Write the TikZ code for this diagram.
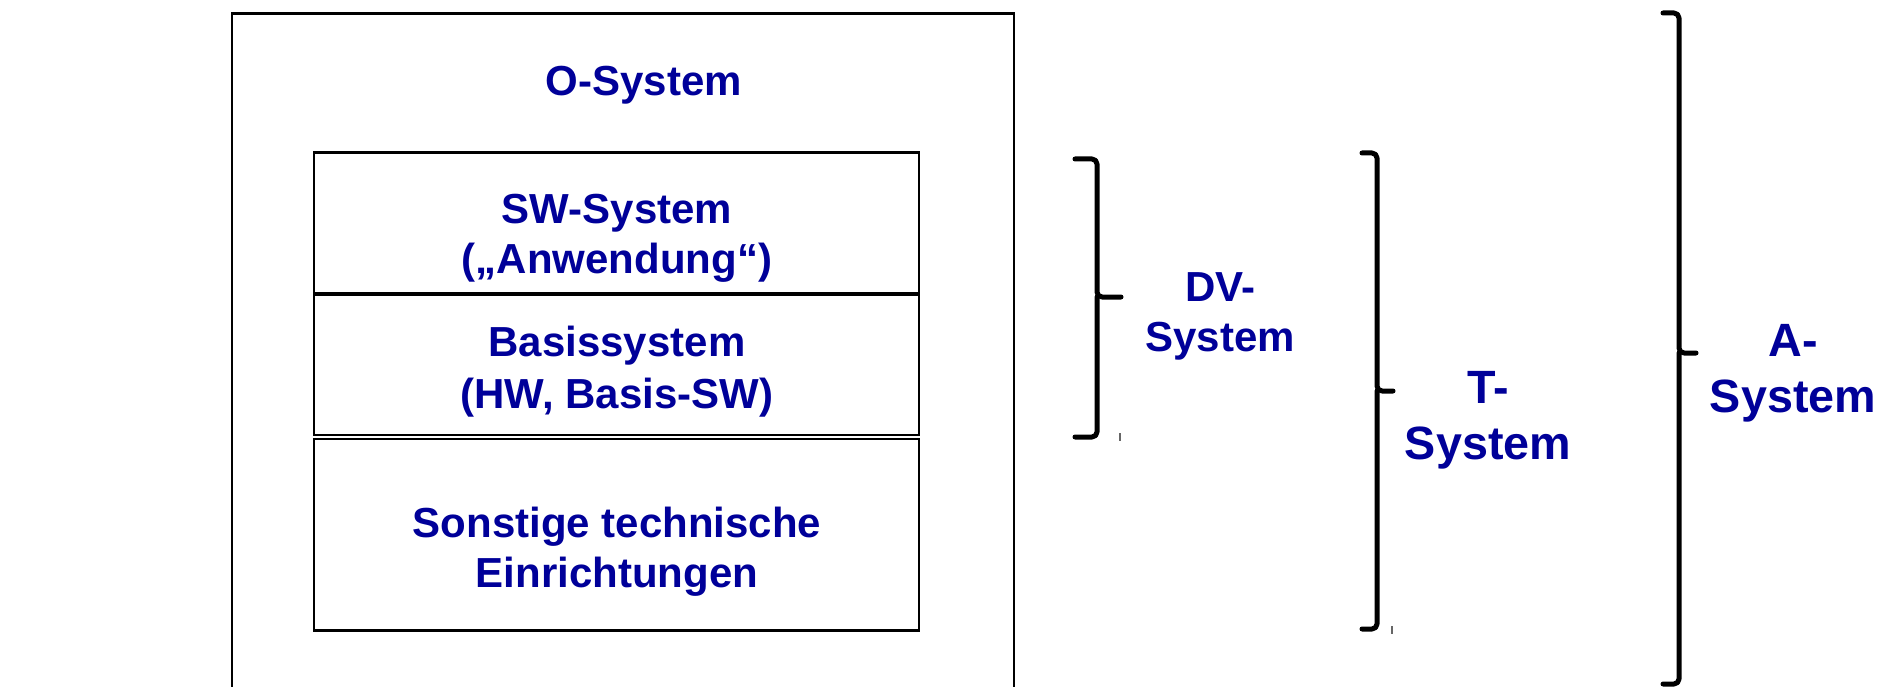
\documentclass[tikz,border=0pt]{standalone}
\usepackage{fontspec}
\setmainfont{Liberation Sans}
\definecolor{labelblue}{RGB}{0,0,153}
\begin{document}
\begin{tikzpicture}[x=1pt,y=-1pt,
  frame/.style={draw=black,line width=2.5pt},
  layer/.style={draw=black,line width=2.6pt},
  lbl/.style={text=labelblue,font=\bfseries\fontsize{42}{50}\selectfont,align=center,inner sep=0pt},
  biglbl/.style={lbl,font=\bfseries\fontsize{46.7}{56}\selectfont},
  brace/.style={draw=black,line width=5pt,line cap=round,line join=round,rounded corners=5pt},
  tick/.style={draw=black!60,line width=1.2pt}]
\useasboundingbox (0,0) rectangle (1881,687);

% outer frame (runs off the bottom edge)
\draw[frame] (232,13.5) rectangle (1014,720);
\node[lbl] (osys) at (644,85) {O-System};

% stacked layers
\draw[layer] (314,152.5) rectangle (919,293.5);
\draw[layer] (314,295) rectangle (919,435);
\draw[layer] (314,439) rectangle (919,630.5);

\node[lbl] (sw)   at (617,238) {SW-System\\(„Anwendung“)};
\node[lbl,font=\bfseries\fontsize{42}{52}\selectfont] (bas) at (617,372) {Basissystem\\(HW, Basis-SW)};
\node[lbl] (sons) at (617,551.5) {Sonstige technische\\Einrichtungen};

% brace: DV-System
\coordinate (dvT) at (1075,159);
\coordinate (dvB) at (1075,437);
\coordinate (dvM) at (1121,297);
\draw[brace] (dvT) -- (1097,159) -- (1097,297) -- (dvM);
\draw[brace] (dvB) -- (1097,437) -- (1097,297);
\draw[tick] (1120,433) -- (1120,441);
\node[lbl] (dv) at (1220,316) {DV-\\System};

% brace: T-System
\coordinate (tT) at (1362,153);
\coordinate (tB) at (1362,629);
\coordinate (tM) at (1393,391);
\draw[brace] (tT) -- (1377,153) -- (1377,391) -- (tM);
\draw[brace] (tB) -- (1377,629) -- (1377,391);
\draw[tick] (1392,626) -- (1392,634);
\node[biglbl] (ts) at (1488,420) {T-\\System};

% brace: A-System
\coordinate (aT) at (1663,13);
\coordinate (aB) at (1663,684);
\coordinate (aM) at (1696,353);
\draw[brace] (aT) -- (1679,13) -- (1679,353) -- (aM);
\draw[brace] (aB) -- (1679,684) -- (1679,353);
\node[biglbl] (as) at (1793,373) {A-\\System};
\end{tikzpicture}
\end{document}
